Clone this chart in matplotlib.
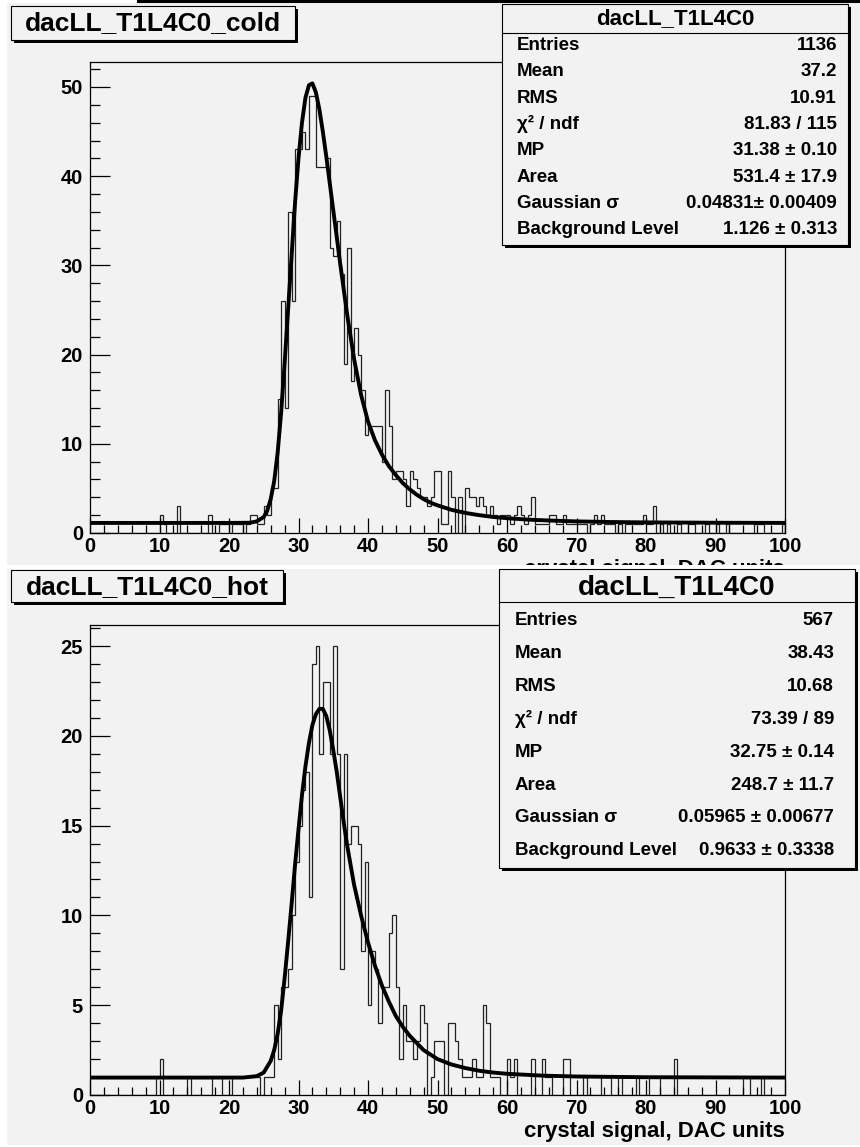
"""
ROOT-style pair of fitted histograms: dacLL_T1L4C0 cold / hot.

python plot.py  ->  out.png
"""

import matplotlib
matplotlib.use("Agg")

import numpy as np
import matplotlib.pyplot as plt
from matplotlib.patches import Rectangle
from matplotlib.lines import Line2D
from matplotlib.ticker import MultipleLocator

plt.rcParams["font.family"] = ["Liberation Sans", "DejaVu Sans"]
plt.rcParams["font.weight"] = "bold"

W, H = 860, 1147          # output size in pixels (dpi 100)
C_BG = "#f2f2f2"          # ROOT canvas grey
C_HIST = "#222222"        # histogram outline
C_FIT = "#000000"         # fit curve

# -----------------------------------------------------------------------
# Data (200 bins of 0.5 DAC units, 0..100)
# -----------------------------------------------------------------------
x_lo, x_hi, n_bins = 0.0, 100.0, 200

cold_counts = [
    0, 0, 0, 0, 0, 0, 0, 0, 0, 0, 0, 0, 0, 0, 0, 0, 0, 0, 0, 0,
    2, 1, 0, 0, 0, 3, 0, 0, 0, 0, 0, 0, 0, 0, 2, 0, 0, 1, 1, 1,
    0, 1, 1, 1, 0, 1, 2, 2, 1, 1, 3, 2, 5, 5, 15, 26, 14, 36, 26, 43,
    43, 45, 43, 49, 49, 41, 41, 41, 42, 32, 31, 35, 29, 19, 32, 17, 23, 20, 16, 11,
    12, 12, 12, 12, 8, 16, 12, 6, 7, 7, 6, 3, 7, 6, 5, 4, 4, 3, 4, 7,
    7, 1, 1, 7, 4, 0, 4, 0, 5, 4, 4, 3, 4, 3, 2, 3, 2, 1, 2, 2,
    2, 1, 2, 3, 2, 1, 2, 4, 1, 1, 1, 1, 2, 2, 1, 1, 2, 1, 1, 1,
    1, 1, 1, 0, 1, 2, 1, 2, 1, 1, 1, 0, 1, 0, 1, 1, 1, 1, 1, 2,
    1, 1, 3, 0, 1, 0, 1, 0, 0, 1, 0, 0, 1, 1, 0, 0, 0, 1, 0, 0,
    1, 0, 0, 1, 0, 0, 0, 0, 0, 0, 0, 1, 1, 1, 0, 0, 0, 0, 0, 1,
]

hot_counts = [
    0, 0, 0, 0, 0, 0, 0, 0, 0, 0, 0, 0, 0, 0, 0, 0, 0, 0, 0, 1,
    2, 0, 0, 0, 0, 0, 0, 0, 1, 0, 0, 0, 0, 0, 0, 1, 1, 1, 0, 0,
    0, 1, 1, 1, 1, 1, 1, 1, 1, 0, 1, 1, 1, 5, 2, 6, 6, 7, 10, 13,
    15, 17, 18, 11, 24, 25, 19, 23, 23, 19, 25, 19, 7, 19, 14, 15, 15, 14, 8, 13,
    5, 8, 7, 4, 6, 6, 9, 10, 6, 2, 5, 3, 3, 2, 3, 5, 4, 0, 1, 3,
    3, 3, 0, 4, 4, 3, 2, 1, 1, 1, 2, 1, 1, 5, 4, 1, 1, 1, 0, 0,
    2, 1, 2, 0, 0, 0, 0, 2, 0, 0, 2, 1, 1, 0, 0, 0, 2, 2, 0, 0,
    0, 0, 1, 0, 0, 0, 0, 1, 1, 1, 0, 0, 1, 0, 0, 0, 0, 1, 0, 0,
    0, 1, 1, 1, 0, 0, 0, 0, 2, 0, 0, 0, 0, 0, 0, 0, 0, 0, 0, 0,
    0, 0, 0, 0, 0, 0, 0, 0, 1, 1, 0, 0, 0, 1, 0, 0, 0, 0, 0, 0,
]

# fitted curves
cold_fit_x = [0, 20, 23, 24, 25, 25.5, 26, 26.5, 27, 27.5, 28, 28.5, 29, 29.5,
              30, 30.5, 31, 31.5, 32, 32.5, 33, 33.5, 34, 35, 36, 37, 38, 39,
              40, 41, 42, 43, 44, 45, 46, 47, 48, 49, 50, 52, 54, 56, 58, 60,
              63, 66, 70, 75, 80, 85, 90, 95, 100]
cold_fit_y = [1.13, 1.13, 1.15, 1.3, 1.8, 2.5, 3.8, 5.8, 9.0, 13.5, 19, 25, 31, 37,
              42, 46, 48.8, 50.2, 50.4, 49.4, 47.5, 45, 42.2, 36.2, 30.2, 24.5, 19.5, 15.5,
              12.5, 10.4, 8.8, 7.5, 6.5, 5.6, 4.9, 4.3, 3.8, 3.4, 3.1, 2.6, 2.25, 2.0, 1.8, 1.66,
              1.5, 1.4, 1.3, 1.23, 1.19, 1.17, 1.15, 1.14, 1.13]

hot_fit_x = [0, 22, 24, 25, 26, 26.5, 27, 27.5, 28, 28.5, 29, 29.5, 30, 30.5,
             31, 31.5, 32, 32.5, 33, 33.5, 34, 34.5, 35, 35.5, 36, 36.5, 37, 38,
             39, 40, 41, 42, 43, 44, 45, 46, 47, 48, 50, 52, 54, 56, 58, 60,
             65, 70, 80, 90, 100]
hot_fit_y = [0.97, 0.97, 1.05, 1.25, 1.9, 2.5, 3.4, 4.7, 6.5, 8.5, 10.6, 12.8, 14.8, 16.7,
             18.3, 19.6, 20.6, 21.2, 21.5, 21.5, 21.1, 20.3, 19.2, 18.0, 16.6, 15.2, 13.9, 11.7,
             10.0, 8.5, 7.2, 6.1, 5.2, 4.4, 3.8, 3.3, 2.9, 2.5, 2.0, 1.7, 1.5, 1.35, 1.25, 1.18,
             1.08, 1.03, 0.99, 0.98, 0.97]

stat_labels = ["Entries", "Mean", "RMS", "\u03c7\u00b2 / ndf", "MP", "Area",
               "Gaussian \u03c3", "Background Level"]
cold_stats = ["1136", "37.2", "10.91", "81.83 / 115", "31.38 \u00b1 0.10",
              "531.4 \u00b1 17.9", "0.04831\u00b1 0.00409", "1.126 \u00b1 0.313"]
hot_stats = ["567", "38.43", "10.68", "73.39 / 89", "32.75 \u00b1 0.14",
             "248.7 \u00b1 11.7", "0.05965 \u00b1 0.00677", "0.9633 \u00b1 0.3338"]

hist_name = "dacLL_T1L4C0"
x_label = "crystal signal, DAC units"

edges = np.linspace(x_lo, x_hi, n_bins + 1)


fig = plt.figure(figsize=(W / 100, H / 100), dpi=100, facecolor="white")


def fx(x):
    return x / W


def fy(y):
    return 1 - y / H


def rect(x0, y0, x1, y1, z, **kw):
    r = Rectangle((fx(x0), fy(y1)), (x1 - x0) / W, (y1 - y0) / H,
                  transform=fig.transFigure, zorder=z, **kw)
    fig.add_artist(r)
    return r


def root_box(x0, y0, x1, y1, z):
    """Grey box with a black drop shadow, ROOT TPave style."""
    rect(x0 + 3, y0 + 3, x1 + 3, y1 + 3, z, facecolor="black", edgecolor="none")
    rect(x0, y0, x1, y1, z, facecolor=C_BG, edgecolor="black", linewidth=0.8)


def hist_panel(ax_box, counts, fit_x, fit_y, ymax, ymaj, ymin, z):
    ax = fig.add_axes(ax_box, zorder=z)
    ax.set_facecolor(C_BG)
    ax.stairs(counts, edges, color=C_HIST, linewidth=0.9, baseline=0)
    ax.plot(fit_x, fit_y, color=C_FIT, linewidth=2.8, solid_joinstyle="round",
            solid_capstyle="butt")
    ax.set_xlim(x_lo, x_hi)
    ax.set_ylim(0, ymax)
    ax.xaxis.set_major_locator(MultipleLocator(10))
    ax.xaxis.set_minor_locator(MultipleLocator(2))
    ax.yaxis.set_major_locator(MultipleLocator(ymaj))
    ax.yaxis.set_minor_locator(MultipleLocator(ymin))
    for s in ax.spines.values():
        s.set_linewidth(0.9)
        s.set_color("black")
    ax.tick_params(axis="both", which="both", direction="in",
                   top=False, right=False, labelsize=14.5, width=0.9)
    ax.tick_params(axis="x", which="major", length=10.8, pad=3)
    ax.tick_params(axis="x", which="minor", length=5.8)
    ax.tick_params(axis="y", which="major", length=14.4, pad=5)
    ax.tick_params(axis="y", which="minor", length=7.2)
    for lab in ax.get_xticklabels() + ax.get_yticklabels():
        lab.set_fontweight("bold")
    ax.set_xlabel(x_label, loc="right", fontsize=16, fontweight="bold",
                  labelpad=2)
    return ax


def stats_box(x0, y0, x1, y1, sep_y, title_y, title_size, row_y0, row_dy,
              lab_x, val_x, values, z):
    root_box(x0, y0, x1, y1, z)
    fig.add_artist(Line2D([fx(x0), fx(x1)], [fy(sep_y), fy(sep_y)],
                          transform=fig.transFigure, color="black",
                          linewidth=0.8, zorder=z + 0.5))
    fig.text(fx((x0 + x1) / 2), fy(title_y), hist_name, ha="center",
             va="center", fontsize=title_size, fontweight="bold", zorder=z + 1)
    for i, (lab, val) in enumerate(zip(stat_labels, values)):
        y = fy(row_y0 + i * row_dy)
        fig.text(fx(lab_x), y, lab, ha="left", va="center", fontsize=13.5,
                 fontweight="bold", zorder=z + 1)
        fig.text(fx(val_x), y, val, ha="right", va="center", fontsize=13.5,
                 fontweight="bold", zorder=z + 1)


# -----------------------------------------------------------------------
# Top canvas (cold)
# -----------------------------------------------------------------------
rect(7, 3, W, 565, 0.5, facecolor=C_BG, edgecolor="none")
fig.add_artist(Line2D([fx(138), fx(W)], [fy(1), fy(1)], transform=fig.transFigure,
                      color="black", linewidth=2.2, zorder=0.6))

hist_panel([fx(90), fy(533), 695 / W, 471 / H], cold_counts,
           cold_fit_x, cold_fit_y, 52.8, 10, 2, 1)

root_box(11, 6, 295, 40, 1.5)
fig.text(fx(153), fy(23.5), hist_name + "_cold", ha="center", va="center",
         fontsize=19, fontweight="bold", zorder=2.5)

stats_box(502, 4, 848, 245, 33, 18.5, 16, 45.5, 26.3, 517, 837,
          cold_stats, 1.5)

# -----------------------------------------------------------------------
# Bottom canvas (hot) -- covers the lower edge of the top canvas
# -----------------------------------------------------------------------
rect(0, 565, W, H, 3, facecolor="white", edgecolor="none")
rect(7, 569, W, H - 2, 3, facecolor=C_BG, edgecolor="none")

hist_panel([fx(90), fy(1095), 695 / W, 470 / H], hot_counts,
           hot_fit_x, hot_fit_y, 26.17, 5, 1, 4)

root_box(11, 570, 283, 602, 5)
fig.text(fx(147), fy(587), hist_name + "_hot", ha="center", va="center",
         fontsize=19, fontweight="bold", zorder=6)

stats_box(499, 569, 855, 868, 602, 587.5, 20, 620.5, 32.9, 515, 834,
          hot_stats, 5)

fig.savefig("out.png", dpi=100, facecolor="white")
plt.close(fig)
